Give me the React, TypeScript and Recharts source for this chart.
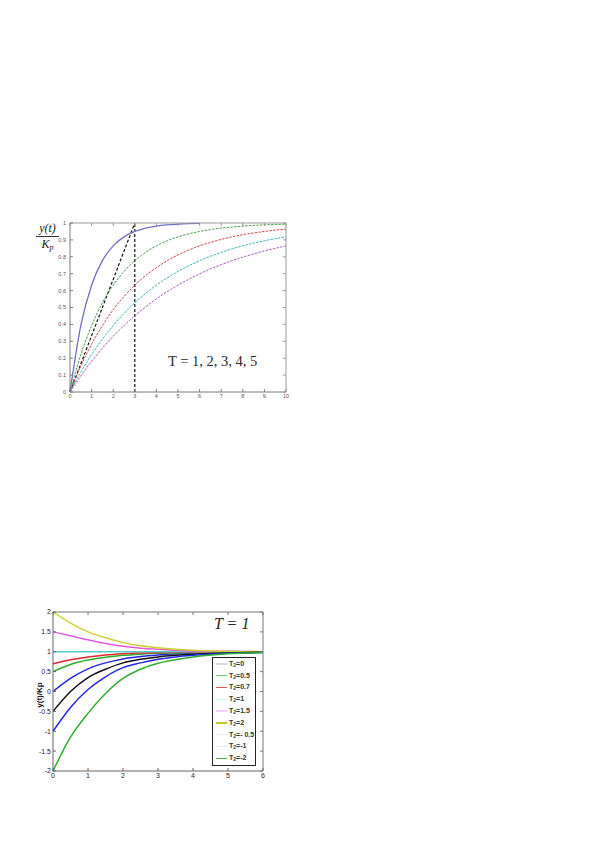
import React from 'react';
import { LineChart, Line, XAxis, YAxis, ReferenceLine, Legend } from 'recharts';

// ---------- Top chart data (first-order step responses) ----------
const topTime = [0, 0.5, 1, 1.5, 2, 2.5, 3, 3.5, 4, 4.5, 5, 5.5, 6, 6.5, 7, 7.5, 8, 8.5, 9, 9.5, 10];
const topT1 = [0, 0.393, 0.632, 0.777, 0.865, 0.918, 0.95, 0.97, 0.982, 0.989, 0.993, 0.996, 0.998, null, null, null, null, null, null, null, null];
const topT2 = [0, 0.221, 0.393, 0.528, 0.632, 0.713, 0.777, 0.826, 0.865, 0.895, 0.918, 0.936, 0.95, 0.961, 0.97, 0.976, 0.982, 0.986, 0.989, 0.991, 0.993];
const topT3 = [0, 0.154, 0.283, 0.393, 0.487, 0.565, 0.632, 0.689, 0.736, 0.777, 0.811, 0.84, 0.865, 0.885, 0.903, 0.918, 0.931, 0.941, 0.95, 0.958, 0.964];
const topT4 = [0, 0.118, 0.221, 0.313, 0.393, 0.465, 0.528, 0.583, 0.632, 0.675, 0.713, 0.747, 0.777, 0.803, 0.826, 0.847, 0.865, 0.881, 0.895, 0.907, 0.918];
const topT5 = [0, 0.095, 0.181, 0.259, 0.33, 0.393, 0.451, 0.503, 0.551, 0.593, 0.632, 0.667, 0.699, 0.728, 0.753, 0.777, 0.798, 0.817, 0.835, 0.85, 0.865];
const topTicksX = [0, 1, 2, 3, 4, 5, 6, 7, 8, 9, 10];
const topTicksY = [0, 0.1, 0.2, 0.3, 0.4, 0.5, 0.6, 0.7, 0.8, 0.9, 1];
const tangentLine = [{ x: 0, y: 0 }, { x: 3, y: 1 }];
const markerTime = 3;
const topNote = 'T = 1, 2, 3, 4, 5';

// ---------- Bottom chart data (lead-lag step responses, T = 1) ----------
const botTime = [0, 0.5, 1, 1.5, 2, 2.5, 3, 3.5, 4, 5, 6];
const botT2_0 = [0, 0.33, 0.57, 0.72, 0.82, 0.88, 0.92, 0.95, 0.97, 0.99, 1.0];
const botT2_05 = [0.5, 0.68, 0.79, 0.86, 0.91, 0.94, 0.96, 0.97, 0.98, 0.99, 1.0];
const botT2_07 = [0.7, 0.8, 0.87, 0.92, 0.95, 0.97, 0.98, 0.99, 0.99, 1.0, 1.0];
const botT2_1 = [1, 1, 1, 1, 1, 1, 1, 1, 1, 1, 1];
const botT2_15 = [1.5, 1.4, 1.3, 1.21, 1.14, 1.09, 1.06, 1.04, 1.02, 1.01, 1.0];
const botT2_2 = [2, 1.72, 1.5, 1.35, 1.23, 1.15, 1.1, 1.06, 1.04, 1.01, 1.0];
const botT2_m05 = [-0.5, 0.0, 0.35, 0.56, 0.72, 0.81, 0.87, 0.91, 0.94, 0.97, 0.99];
const botT2_m1 = [-1, -0.4, 0.05, 0.37, 0.6, 0.72, 0.81, 0.87, 0.91, 0.96, 0.98];
const botT2_m2 = [-2, -1.15, -0.55, -0.05, 0.33, 0.56, 0.71, 0.8, 0.87, 0.95, 0.98];
const botSeriesKeys = ['s0', 's05', 's07', 's1', 's15', 's2', 'sm05', 'sm1', 'sm2'];
const botSeriesValues = [botT2_0, botT2_05, botT2_07, botT2_1, botT2_15, botT2_2, botT2_m05, botT2_m1, botT2_m2];
const botLegendValues = ['0', '0.5', '0.7', '1', '1.5', '2', '- 0.5', '-1', '-2'];
const botTicksX = [0, 1, 2, 3, 4, 5, 6];
const botTicksY = [-2, -1.5, -1, -0.5, 0, 0.5, 1, 1.5, 2];
const botNote = 'T = 1';

// ---------- styles ----------
const topColors = ['#7070c6', '#4a9e4a', '#d04848', '#3cb4b4', '#b05cc4'];
const botColors = ['#2424e6', '#2eae2e', '#e42a2a', '#55cfcf', '#df5ade', '#cfcf2a', '#111111', '#2424e6', '#2eae2e'];
const legendLineColors = ['#d8d8f4', '#6ccf6c', '#ee5050', '#cff4f4', '#f2d0f2', '#c8c81e', '#eeeeee', '#e6e6f4', '#48b048'];

const topData = topTime.map((t, i) => ({
  t,
  T1: topT1[i],
  T2: topT2[i],
  T3: topT3[i],
  T4: topT4[i],
  T5: topT5[i],
}));

const botData = botTime.map((t, i) => {
  const row: Record<string, number> = { t };
  botSeriesKeys.forEach((k, j) => {
    row[k] = botSeriesValues[j][i];
  });
  return row;
});

const serif = '"Liberation Serif", "Times New Roman", serif';
const sans = '"Liberation Sans", Arial, Helvetica, sans-serif';

const fmtTop = (v: number) => (v === 0 ? '0' : v === 1 ? '1' : String(v));
const noTick = () => <g />;

function BottomLegend() {
  return (
    <div
      style={{
        width: 44,
        height: 109,
        boxSizing: 'border-box',
        border: '1.2px solid #222',
        background: '#fff',
        fontFamily: sans,
        fontSize: 7,
        fontWeight: 'bold',
        color: '#333',
      }}
    >
      {botLegendValues.map((v, i) => (
        <div key={i} style={{ display: 'flex', alignItems: 'center', height: 11.8, whiteSpace: 'nowrap' }}>
          <div style={{ width: 11, height: 1.5, background: legendLineColors[i], marginLeft: 3, marginRight: 2 }} />
          <span>
            T<sub style={{ fontSize: 5, verticalAlign: -1 }}>2</sub>={v}
          </span>
        </div>
      ))}
    </div>
  );
}

export default function App() {
  return (
    <div style={{ position: 'absolute', left: 0, top: 0, width: 599, height: 848, background: '#fff' }}>
      {/* ---------------- Top chart ---------------- */}
      <div style={{ position: 'absolute', left: 40, top: 213 }}>
        <LineChart width={260} height={195} data={topData} margin={{ top: 9, right: 13, left: 0, bottom: 0 }}>
          <XAxis
            xAxisId="b"
            dataKey="t"
            type="number"
            domain={[0, 10]}
            ticks={topTicksX}
            interval={0}
            tickSize={-3}
            tickMargin={5}
            height={16}
            stroke="#7a7a7a"
            tick={{ fontSize: 5.5, fill: '#555', fontFamily: sans }}
          />
          <XAxis
            xAxisId="top"
            orientation="top"
            dataKey="t"
            type="number"
            domain={[0, 10]}
            ticks={topTicksX}
            interval={0}
            tickSize={-3}
            tick={noTick}
            height={1}
            stroke="#9a9a9a"
          />
          <YAxis
            yAxisId="l"
            type="number"
            domain={[0, 1]}
            ticks={topTicksY}
            interval={0}
            tickSize={-3}
            tickMargin={7}
            width={30}
            stroke="#7a7a7a"
            tickFormatter={fmtTop}
            tick={{ fontSize: 5.5, fill: '#555', fontFamily: sans }}
          />
          <YAxis
            yAxisId="r"
            orientation="right"
            type="number"
            domain={[0, 1]}
            ticks={topTicksY}
            interval={0}
            tickSize={-3}
            tick={noTick}
            width={1}
            stroke="#9a9a9a"
          />
          <ReferenceLine xAxisId="b" yAxisId="l" segment={tangentLine} stroke="#111" strokeWidth={1.2} strokeDasharray="3 2" />
          <ReferenceLine xAxisId="b" yAxisId="l" x={markerTime} stroke="#111" strokeWidth={1.2} strokeDasharray="3 2" />
          <Line xAxisId="top" yAxisId="r" type="monotone" dataKey="T2" stroke="none" dot={false} activeDot={false} isAnimationActive={false} />
          <Line xAxisId="b" yAxisId="l" type="monotone" dataKey="T5" stroke={topColors[4]} strokeWidth={1} strokeDasharray="2.5 1.2" dot={false} isAnimationActive={false} />
          <Line xAxisId="b" yAxisId="l" type="monotone" dataKey="T4" stroke={topColors[3]} strokeWidth={1} strokeDasharray="2.5 1.2" dot={false} isAnimationActive={false} />
          <Line xAxisId="b" yAxisId="l" type="monotone" dataKey="T3" stroke={topColors[2]} strokeWidth={1} strokeDasharray="2.5 1.2" dot={false} isAnimationActive={false} />
          <Line xAxisId="b" yAxisId="l" type="monotone" dataKey="T2" stroke={topColors[1]} strokeWidth={1} strokeDasharray="2.5 1.2" dot={false} isAnimationActive={false} />
          <Line xAxisId="b" yAxisId="l" type="monotone" dataKey="T1" stroke={topColors[0]} strokeWidth={1.3} dot={false} isAnimationActive={false} />
        </LineChart>
      </div>
      {/* top chart y label as fraction */}
      <div
        style={{
          position: 'absolute',
          left: 36,
          top: 222,
          width: 23,
          fontFamily: serif,
          fontStyle: 'italic',
          fontSize: 12,
          color: '#222',
          textAlign: 'center',
          lineHeight: '12px',
        }}
      >
        <div>y(t)</div>
        <div style={{ borderTop: '1px solid #333', marginTop: 2, paddingTop: 1 }}>
          K<sub style={{ fontSize: 8, verticalAlign: -2 }}>p</sub>
        </div>
      </div>
      <div
        style={{
          position: 'absolute',
          left: 168,
          top: 353,
          fontFamily: serif,
          fontSize: 14.5,
          color: '#2a2a2a',
          whiteSpace: 'nowrap',
        }}
      >
        {topNote}
      </div>

      {/* ---------------- Bottom chart ---------------- */}
      <div style={{ position: 'absolute', left: 10, top: 600 }}>
        <LineChart width={270} height={190} data={botData} margin={{ top: 11, right: 16, left: 0, bottom: 5 }}>
          <XAxis
            xAxisId="b"
            dataKey="t"
            type="number"
            domain={[0, 6]}
            ticks={botTicksX}
            interval={0}
            tickSize={-3}
            tickMargin={5}
            height={14}
            stroke="#666"
            tick={{ fontSize: 7, fill: '#222', fontFamily: sans }}
          />
          <XAxis
            xAxisId="top"
            orientation="top"
            dataKey="t"
            type="number"
            domain={[0, 6]}
            ticks={botTicksX}
            interval={0}
            tickSize={-3}
            tick={noTick}
            height={1}
            stroke="#777"
          />
          <YAxis
            yAxisId="l"
            type="number"
            domain={[-2, 2]}
            ticks={botTicksY}
            interval={0}
            tickSize={-3}
            tickMargin={5}
            width={43}
            stroke="#666"
            tick={{ fontSize: 7, fill: '#222', fontFamily: sans }}
          />
          <YAxis
            yAxisId="r"
            orientation="right"
            type="number"
            domain={[-2, 2]}
            ticks={botTicksY}
            interval={0}
            tickSize={-3}
            tick={noTick}
            width={1}
            stroke="#777"
          />
          <Line xAxisId="top" yAxisId="r" type="monotone" dataKey="s1" stroke="none" dot={false} activeDot={false} isAnimationActive={false} legendType="none" />
          {botSeriesKeys.map((k, j) => (
            <Line
              key={k}
              xAxisId="b"
              yAxisId="l"
              type="monotone"
              dataKey={k}
              stroke={botColors[j]}
              strokeWidth={1.5}
              dot={false}
              isAnimationActive={false}
            />
          ))}
          <Legend
            layout="horizontal"
            align="center"
            verticalAlign="middle"
            content={() => <BottomLegend />}
            wrapperStyle={{ position: 'absolute', left: 202, top: 57, width: 44, height: 109 }}
          />
        </LineChart>
      </div>
      <div
        style={{
          position: 'absolute',
          left: 214,
          top: 615,
          fontFamily: serif,
          fontStyle: 'italic',
          fontSize: 16,
          color: '#222',
          whiteSpace: 'nowrap',
        }}
      >
        {botNote}
      </div>
      <div
        style={{
          position: 'absolute',
          left: 39,
          top: 695,
          transform: 'translate(-50%, -50%) rotate(-90deg)',
          fontFamily: sans,
          fontWeight: 'bold',
          fontSize: 8,
          color: '#111',
          whiteSpace: 'nowrap',
        }}
      >
        y(t)/Kp
      </div>
    </div>
  );
}
